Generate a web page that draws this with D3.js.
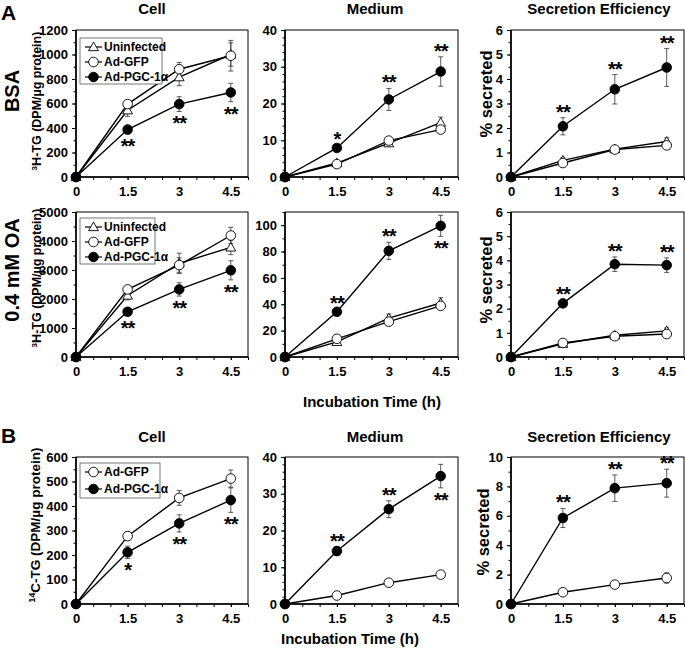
<!DOCTYPE html>
<html><head><meta charset="utf-8">
<script src="https://cdn.jsdelivr.net/npm/d3@7"></script>
<style>
body{margin:0;background:#fff;}
text{font-family:'Liberation Sans Narrow','Arial Narrow','Liberation Sans',Arial,sans-serif;font-weight:bold;fill:#000;}
.wide{font-family:'Liberation Sans',Arial,sans-serif;}
</style></head>
<body>
<svg id="c" width="685" height="649"></svg>
<script>
// ---------- DATA ----------
const times = [0, 1.5, 3, 4.5];
const xTickLabels = [0, 1.5, 3, 4.5];
const seriesNames = ["Uninfected", "Ad-GFP", "Ad-PGC-1\u03b1"];
const colTitles = ["Cell", "Medium", "Secretion Efficiency"];
const rowLabelsA = ["BSA", "0.4 mM OA"];
const xAxisTitle = "Incubation Time (h)";

// Row A1: BSA
const a1CellUninf = [0, 545, 815, 1000], a1CellUninfErr = [0, 50, 70, 95];
const a1CellGfp   = [0, 595, 880, 990],  a1CellGfpErr   = [0, 25, 55, 125];
const a1CellPgc   = [0, 387, 595, 690],  a1CellPgcErr   = [0, 35, 60, 75];
const a1CellStars = ["", "**", "**", "**"], a1CellStarPos = ["", "below", "below", "below"];

const a1MedUninf = [0, 3.8, 9.2, 14.8], a1MedUninfErr = [0, 0.5, 0.8, 1.5];
const a1MedGfp   = [0, 3.5, 9.9, 12.9], a1MedGfpErr   = [0, 0.6, 0.8, 1.0];
const a1MedPgc   = [0, 7.9, 21.1, 28.7], a1MedPgcErr  = [0, 0.8, 3.0, 4.0];
const a1MedStars = ["", "*", "**", "**"], a1MedStarPos = ["", "above", "above", "above"];

const a1SeUninf = [0, 0.68, 1.14, 1.45], a1SeUninfErr = [0, 0.1, 0.08, 0.15];
const a1SeGfp   = [0, 0.57, 1.12, 1.29], a1SeGfpErr   = [0, 0.07, 0.1, 0.12];
const a1SePgc   = [0, 2.07, 3.58, 4.47], a1SePgcErr   = [0, 0.35, 0.6, 0.77];
const a1SeStars = ["", "**", "**", "**"], a1SeStarPos = ["", "above", "above", "above"];

// Row A2: 0.4 mM OA
const a2CellUninf = [0, 2120, 3230, 3780], a2CellUninfErr = [0, 150, 350, 250];
const a2CellGfp   = [0, 2330, 3170, 4190], a2CellGfpErr   = [0, 100, 250, 280];
const a2CellPgc   = [0, 1560, 2330, 2990], a2CellPgcErr   = [0, 130, 230, 330];
const a2CellStars = ["", "**", "**", "**"], a2CellStarPos = ["", "below", "below", "below"];

const a2MedUninf = [0, 11.5, 29.5, 41], a2MedUninfErr = [0, 1, 3, 4];
const a2MedGfp   = [0, 13.8, 26.8, 38.8], a2MedGfpErr  = [0, 1, 2, 2.5];
const a2MedPgc   = [0, 34.3, 80.5, 99.5], a2MedPgcErr  = [0, 2, 6.5, 8];
const a2MedStars = ["", "**", "**", "**"], a2MedStarPos = ["", "above", "above", "below"];

const a2SeUninf = [0, 0.55, 0.9, 1.08], a2SeUninfErr = [0, 0.08, 0.1, 0.12];
const a2SeGfp   = [0, 0.58, 0.86, 0.95], a2SeGfpErr  = [0, 0.05, 0.06, 0.08];
const a2SePgc   = [0, 2.22, 3.84, 3.8], a2SePgcErr   = [0, 0.12, 0.3, 0.3];
const a2SeStars = ["", "**", "**", "**"], a2SeStarPos = ["", "above", "above", "above"];

// Row B: 14C
const bCellGfp = [0, 277, 433, 512], bCellGfpErr = [0, 18, 30, 35];
const bCellPgc = [0, 211, 329, 424], bCellPgcErr = [0, 25, 35, 50];
const bCellStars = ["", "*", "**", "**"], bCellStarPos = ["", "below", "below", "below"];

const bMedGfp = [0, 2.3, 5.8, 8.0], bMedGfpErr = [0, 0.4, 0.5, 0.8];
const bMedPgc = [0, 14.4, 25.8, 34.8], bMedPgcErr = [0, 1.2, 2.3, 3.2];
const bMedStars = ["", "**", "**", "**"], bMedStarPos = ["", "above", "above", "below"];

const bSeGfp = [0, 0.8, 1.32, 1.77], bSeGfpErr = [0, 0.1, 0.15, 0.35];
const bSePgc = [0, 5.85, 7.88, 8.22], bSePgcErr = [0, 0.65, 0.9, 0.95];
const bSeStars = ["", "**", "**", "**"], bSeStarPos = ["", "above", "above", "above"];

// ---------- LAYOUT ----------
const svg = d3.select("#c");
const cols = [[76, 248], [285, 458], [511, 684]];
const rows = [[30, 177], [212, 357], [457, 604]];

function mk(vals, errs, kind){ return {vals, errs, kind}; }

const panels = [
  {r:0,c:0,ymax:1200,major:200,minor:100,series:[mk(a1CellUninf,a1CellUninfErr,"tri"),mk(a1CellGfp,a1CellGfpErr,"open"),mk(a1CellPgc,a1CellPgcErr,"fill")],stars:a1CellStars,starPos:a1CellStarPos,legend:[0,1,2]},
  {r:0,c:1,ymax:40,major:10,minor:2,series:[mk(a1MedUninf,a1MedUninfErr,"tri"),mk(a1MedGfp,a1MedGfpErr,"open"),mk(a1MedPgc,a1MedPgcErr,"fill")],stars:a1MedStars,starPos:a1MedStarPos},
  {r:0,c:2,ymax:6,major:1,minor:0.5,series:[mk(a1SeUninf,a1SeUninfErr,"tri"),mk(a1SeGfp,a1SeGfpErr,"open"),mk(a1SePgc,a1SePgcErr,"fill")],stars:a1SeStars,starPos:a1SeStarPos},
  {r:1,c:0,ymax:5000,major:1000,minor:500,series:[mk(a2CellUninf,a2CellUninfErr,"tri"),mk(a2CellGfp,a2CellGfpErr,"open"),mk(a2CellPgc,a2CellPgcErr,"fill")],stars:a2CellStars,starPos:a2CellStarPos,legend:[0,1,2]},
  {r:1,c:1,ymax:110,labelMax:100,major:20,minor:10,series:[mk(a2MedUninf,a2MedUninfErr,"tri"),mk(a2MedGfp,a2MedGfpErr,"open"),mk(a2MedPgc,a2MedPgcErr,"fill")],stars:a2MedStars,starPos:a2MedStarPos},
  {r:1,c:2,ymax:6,major:1,minor:0.5,series:[mk(a2SeUninf,a2SeUninfErr,"tri"),mk(a2SeGfp,a2SeGfpErr,"open"),mk(a2SePgc,a2SePgcErr,"fill")],stars:a2SeStars,starPos:a2SeStarPos},
  {r:2,c:0,ymax:600,major:100,minor:50,series:[mk(bCellGfp,bCellGfpErr,"open"),mk(bCellPgc,bCellPgcErr,"fill")],stars:bCellStars,starPos:bCellStarPos,legend:[1,2]},
  {r:2,c:1,ymax:40,major:10,minor:2,series:[mk(bMedGfp,bMedGfpErr,"open"),mk(bMedPgc,bMedPgcErr,"fill")],stars:bMedStars,starPos:bMedStarPos},
  {r:2,c:2,ymax:10,major:2,minor:1,series:[mk(bSeGfp,bSeGfpErr,"open"),mk(bSePgc,bSePgcErr,"fill")],stars:bSeStars,starPos:bSeStarPos}
];

const tri = d3.symbol().type(d3.symbolTriangle).size(42);

function drawMarker(g, kind, cx, cy){
  if(kind === "tri"){
    g.append("path").attr("d", tri).attr("transform", `translate(${cx},${cy+0.8})`)
      .attr("fill","#fff").attr("stroke","#000").attr("stroke-width",0.9);
  } else {
    g.append("circle").attr("cx",cx).attr("cy",cy).attr("r",4.8)
      .attr("fill",kind==="fill"?"#000":"#fff").attr("stroke","#000").attr("stroke-width",0.9);
  }
}

panels.forEach(p => {
  const [x0,x1] = cols[p.c], [y0,y1] = rows[p.r];
  const x = d3.scaleLinear().domain([0,5]).range([x0,x1]);
  const y = d3.scaleLinear().domain([0,p.ymax]).range([y1,y0]);
  const g = svg.append("g");

  g.append("rect").attr("x",x0).attr("y",y0).attr("width",x1-x0).attr("height",y1-y0)
    .attr("fill","none").attr("stroke","#000").attr("stroke-width",1);

  const yMinor = d3.range(0, p.ymax + 1e-9, p.minor);
  g.append("g").attr("transform",`translate(${x0},0)`)
    .call(d3.axisLeft(y).tickValues(yMinor).tickSize(2.5).tickFormat(""))
    .call(a => a.select(".domain").remove());
  const yMajor = d3.range(0, (p.labelMax||p.ymax) + 1e-9, p.major);
  g.append("g").attr("transform",`translate(${x0},0)`)
    .call(d3.axisLeft(y).tickValues(yMajor).tickSize(4).tickPadding(4).tickFormat(d3.format("d")))
    .call(a => a.select(".domain").remove())
    .call(a => a.selectAll("text").attr("font-size",13));
  const xMinor = d3.range(0, 5 + 1e-9, 0.5);
  g.append("g").attr("transform",`translate(0,${y1})`)
    .call(d3.axisBottom(x).tickValues(xMinor).tickSize(3).tickFormat(""))
    .call(a => a.select(".domain").remove());
  g.append("g").attr("transform",`translate(0,${y1})`)
    .call(d3.axisBottom(x).tickValues(xTickLabels).tickSize(3).tickPadding(7).tickFormat(d => d))
    .call(a => a.select(".domain").remove())
    .call(a => a.selectAll("text").attr("font-size",13));
  g.selectAll(".tick line").attr("stroke","#000");
  g.selectAll(".tick text").attr("fill","#000");
  g.append("line").attr("x1",x0).attr("x2",x0).attr("y1",y0).attr("y2",y1).attr("stroke","#000").attr("stroke-width",1.6);
  g.append("line").attr("x1",x0).attr("x2",x1).attr("y1",y1).attr("y2",y1).attr("stroke","#000").attr("stroke-width",1.6);

  const line = d3.line().x((d,i)=>x(times[i])).y(d=>y(d));
  p.series.forEach(s => {
    g.append("path").attr("d", line(s.vals)).attr("fill","none").attr("stroke","#000").attr("stroke-width",1.4);
  });
  p.series.forEach(s => {
    s.vals.forEach((v,i) => {
      const e = s.errs[i]; if(!e) return;
      const cx = x(times[i]);
      g.append("path").attr("d",`M${cx},${y(v-e)}V${y(v+e)}M${cx-2.5},${y(v+e)}H${cx+2.5}M${cx-2.5},${y(v-e)}H${cx+2.5}`)
        .attr("stroke","#333").attr("stroke-width",0.8).attr("fill","none");
    });
  });
  p.series.forEach(s => {
    s.vals.forEach((v,i) => drawMarker(g, s.kind, x(times[i]), y(v)));
  });

  const pgc = p.series[p.series.length-1];
  p.stars.forEach((st,i) => {
    if(!st) return;
    const v = pgc.vals[i], e = pgc.errs[i];
    const cy = p.starPos[i] === "above" ? y(v+e) - 10 : y(v-e) + 8;
    g.append("text").attr("x", x(times[i])).attr("y", cy + 11).attr("text-anchor","middle")
      .attr("font-size",20).attr("class","wide").attr("letter-spacing",-1).text(st);
  });

  if(p.legend){
    const n = p.legend.length;
    const lx = x0 + 4, ly = y0 + (p.r===1?6:(p.r===2?6:8));
    const lh = p.r===2 ? 17 : 15;
    const bw = p.r===1 ? 75 : (p.r===2 ? 80 : 82);
    g.append("rect").attr("x",lx).attr("y",ly).attr("width",bw).attr("height",n*lh + 1)
      .attr("fill","#fff").attr("stroke","#555").attr("stroke-width",0.8);
    p.legend.forEach((si,k) => {
      const cy = ly + 9 + k*lh;
      const kind = ["tri","open","fill"][si];
      g.append("line").attr("x1",lx+5).attr("x2",lx+22).attr("y1",cy).attr("y2",cy).attr("stroke","#000").attr("stroke-width",1.2);
      drawMarker(g, kind, lx+13.5, cy);
      g.append("text").attr("x",lx+24).attr("y",cy+4).attr("font-size",12).text(seriesNames[si]);
    });
  }
});

// column titles
[14, 442].forEach(ty => {
  colTitles.forEach((t,c) => {
    const cx = [152, 375, 599][c];
    svg.append("text").attr("x",cx).attr("y",ty).attr("text-anchor","middle").attr("font-size",15).attr("class","wide").text(t);
  });
});

svg.append("text").attr("x",1).attr("y",20).attr("font-size",21).attr("class","wide").text("A");
svg.append("text").attr("x",1).attr("y",443).attr("font-size",21).attr("class","wide").text("B");

[[91, rowLabelsA[0]], [270, rowLabelsA[1]]].forEach(([cy,t]) => {
  svg.append("text").attr("transform",`translate(19,${cy}) rotate(-90)`).attr("text-anchor","middle")
    .attr("font-size",20).attr("class","wide").text(t);
});

function ylab(cx, cy, fs, iso, rest, cls){
  const t = svg.append("text").attr("transform",`translate(${cx},${cy}) rotate(-90)`).attr("text-anchor","middle").attr("font-size",fs);
  if(cls) t.attr("class",cls);
  t.append("tspan").attr("font-size",fs*0.65).attr("dy",-fs*0.35).text(iso);
  t.append("tspan").attr("dy",fs*0.35).text(rest);
}
ylab(41, 101, 12.5, "3", "H-TG (DPM/\u00b5g protein)");
ylab(41, 278, 12.5, "3", "H-TG (DPM/\u00b5g protein)");
ylab(40, 525, 13.5, "14", "C-TG (DPM/\u00b5g protein)", "wide");

[[94,492],[280,492],[532,489]].forEach(([cy,cx]) => {
  svg.append("text").attr("transform",`translate(${cx},${cy}) rotate(-90)`).attr("text-anchor","middle")
    .attr("font-size",16.5).attr("class","wide").text("% secreted");
});

svg.append("text").attr("x",372).attr("y",407).attr("text-anchor","middle").attr("font-size",15).attr("class","wide").text(xAxisTitle);
svg.append("text").attr("x",350).attr("y",644).attr("text-anchor","middle").attr("font-size",15).attr("class","wide").text(xAxisTitle);
</script>
</body></html>
